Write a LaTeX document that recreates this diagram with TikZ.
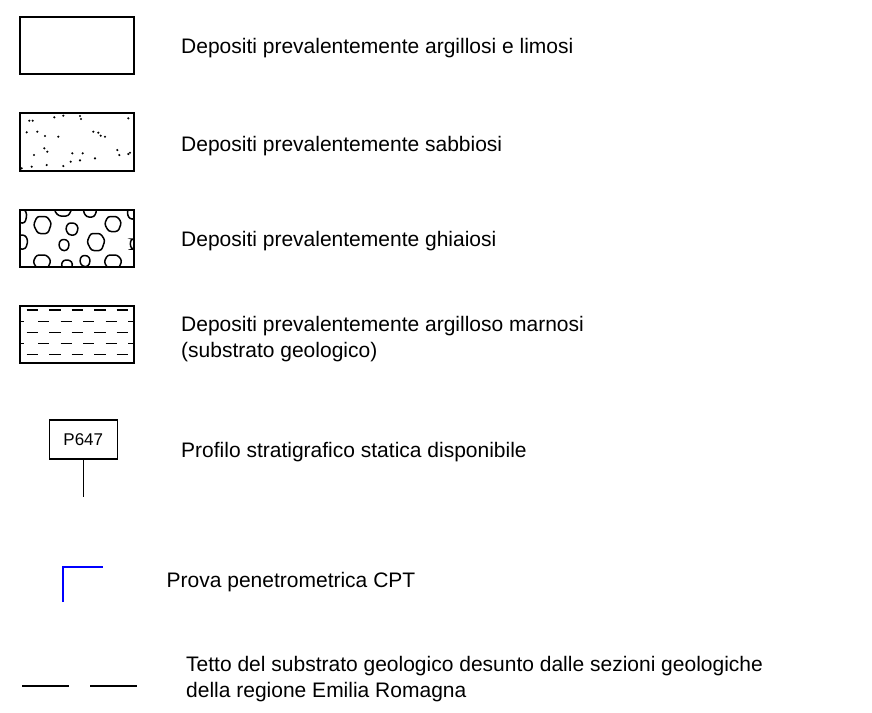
\documentclass[tikz,border=0pt]{standalone}
\usepackage{fontspec}
\setmainfont{Liberation Sans}
\usetikzlibrary{positioning}
\tikzset{
  legbox/.style={draw, line width=2pt},
  legtext/.style={anchor=base west, inner sep=0pt, align=left,
                  font=\fontsize{21}{26}\selectfont},
  pebble/.style={line width=1.5pt, rounded corners=2.5pt},
  marl/.style={line width=1.5pt},
  cpt/.style={draw=blue, line width=2pt}
}

\begin{document}
\begin{tikzpicture}[x=1pt,y=-1pt]
\useasboundingbox (0,0) rectangle (872,712);

% argille e limi
\draw[legbox] (20,17) rectangle (134,74);
\node[legtext] (argille) at (181,53) {Depositi prevalentemente argillosi e limosi};

% sabbie
\foreach \x/\y in {29.3/120.7,32.7/120.7,54.3/117.3,63.3/115.7,80/116,81/119,128.3/118.3,
                   26.7/132.3,37.3/131.7,45/136,58.3/136.7,93.3/131.7,98.3/132.7,100.7/135.7,
                   105/136.7,44.3/148.3,47.3/151.7,34/155,72.3/153.3,82.7/153.3,95/158.3,
                   80/160.3,70.7/161.7,46.7/165,63.3/166,31.7/166.7,21.7/168.3,117.3/150,
                   119.3/155,128.3/154,130/152.7}
  \fill (\x,\y) circle (1.2pt);
\draw[legbox] (20,113) rectangle (134,171);
\node[legtext] (sabbie) at (181,151) {Depositi prevalentemente sabbiosi};

% ghiaie
\begin{scope}
  \clip (20,210) rectangle (134,267);
  \foreach \x/\y/\a/\b in {22/216/5/7, 63/210/9/6, 90/211/7/6, 132/213/5/6,
                           42.5/225/9/8.5, 72/229/6.5/6, 113/224/8.5/7.5,
                           22/242/6/7, 64/245/5.5/5.5, 96/242/9/8.5, 133/244/3/5,
                           42/262/9/7, 67/265/6/5, 85/261/5.5/5.5, 113/262/9/7}
    \draw[pebble] (\x-\a,\y) -- (\x-0.6*\a,\y-\b) -- (\x+0.5*\a,\y-\b)
      -- (\x+\a,\y-0.2*\b) -- (\x+0.6*\a,\y+\b) -- (\x-0.5*\a,\y+\b) -- cycle;
\end{scope}
\draw[legbox] (20,210) rectangle (134,267);
\node[legtext] (ghiaie) at (181,246) {Depositi prevalentemente ghiaiosi};

% marne
\begin{scope}
  \clip (20,306) rectangle (134,363);
  \foreach \y in {310,332.7,354.3}
    \foreach \x in {26.7,49.2,71.7,94.2,116.7}
      \draw[marl] (\x,\y) -- (\x+11.5,\y);
  \foreach \y in {321.7,343.3}
    \foreach \x in {13,38,60.5,83,105.5,128}
      \draw[marl] (\x,\y) -- (\x+11,\y);
\end{scope}
\draw[legbox] (20,306) rectangle (134,363);
% base = ultima riga
\node[legtext] (marne) at (181,357) {Depositi prevalentemente argilloso marnosi\\(substrato geologico)};

% profilo stratigrafico
\node[draw, line width=1.5pt, minimum width=68pt, minimum height=39pt, inner sep=0pt,
      font=\fontsize{17}{20}\selectfont] (p647) at (83.3,439.5) {P647};
\coordinate (stemend) at (83.3,497);
\draw[line width=1.5pt] (p647.south) -- (stemend);
\node[legtext] (profilo) at (181,457) {Profilo stratigrafico statica disponibile};

% CPT
\coordinate (cptbase) at (63,602);
\coordinate (cptcorner) at (63,567);
\coordinate (cpttip) at (103,567);
\draw[cpt] (cptbase) -- (cptcorner) -- (cpttip);
\node[legtext] (cpt) at (166.5,587) {Prova penetrometrica CPT};

% tetto substrato
\coordinate (tettoA) at (22,686);
\coordinate (tettoB) at (137,686);
\draw[line width=2pt, dash pattern=on 47pt off 21pt] (tettoA) -- (tettoB);
\node[legtext] (tetto) at (186,697) {Tetto del substrato geologico desunto dalle sezioni geologiche\\della regione Emilia Romagna};
\end{tikzpicture}
\end{document}
